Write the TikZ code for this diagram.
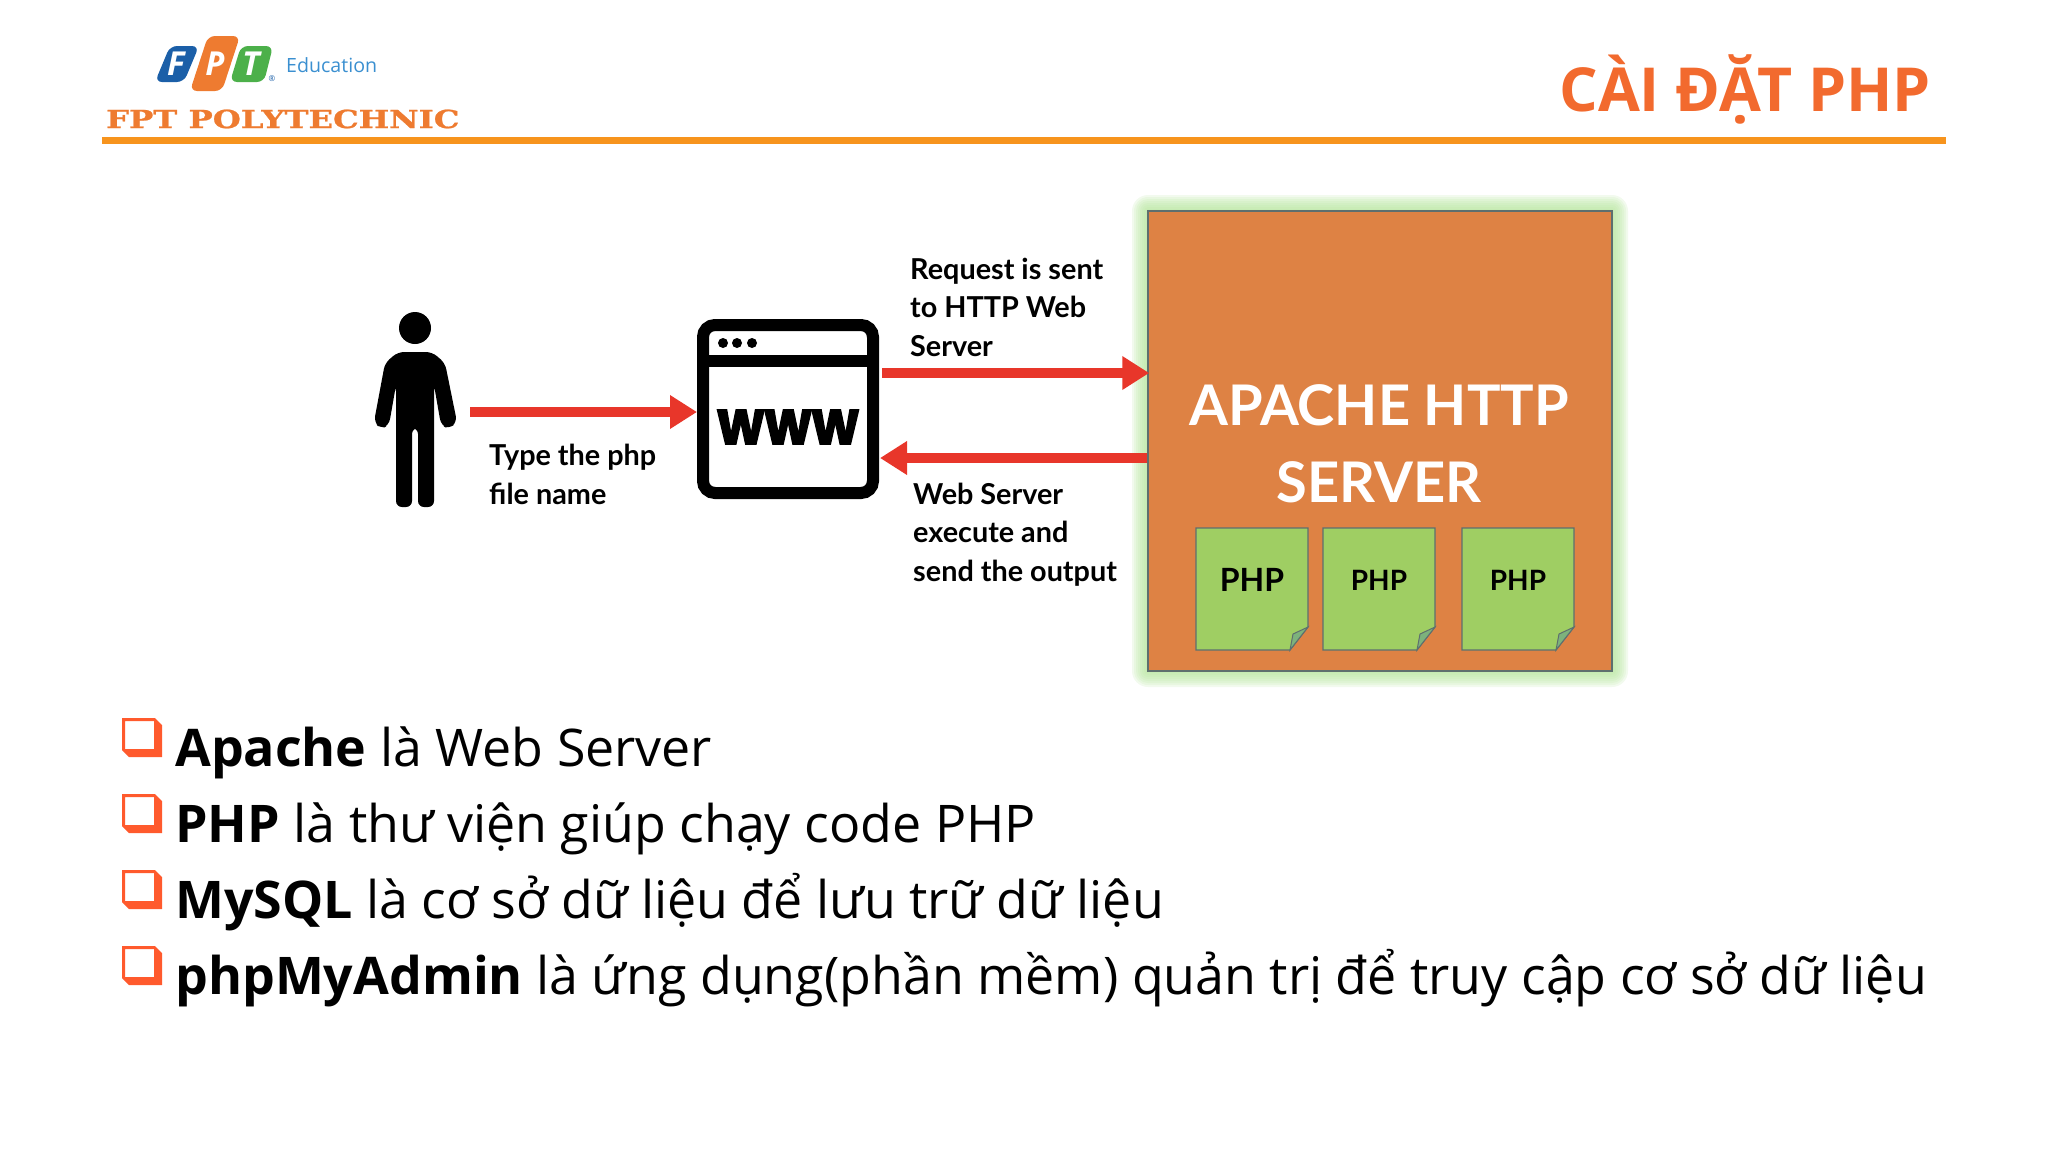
\documentclass[tikz,border=0pt]{standalone}
\usepackage{fontspec}
\setmainfont{Open Sans}
\newfontfamily\labelfont{Lato}
\newfontfamily\crestfont[FakeStretch=1.3,FakeBold=1]{DejaVu Serif}
\newfontfamily\wwwfont[FakeBold=2,FakeStretch=.88]{Poppins}
\usepackage{tikz}
\usetikzlibrary{arrows.meta}
\definecolor{slideorange}{HTML}{F7941D}
\definecolor{titleorange}{HTML}{F26A2E}
\definecolor{bulletorange}{HTML}{FF5A2D}
\definecolor{crestorange}{HTML}{EE7B30}
\definecolor{fptblue}{HTML}{1B5FA8}
\definecolor{fptgreen}{HTML}{4CB04A}
\definecolor{edulblue}{HTML}{3A8FD0}
\definecolor{serverorange}{HTML}{DE8244}
\definecolor{glowgreen}{HTML}{B8E6A0}
\definecolor{notegreen}{HTML}{9FCE63}
\definecolor{foldgreen}{HTML}{7DB27C}
\definecolor{edgegrey}{HTML}{5E6F6E}
\definecolor{arrowred}{HTML}{E8362A}

\begin{document}
\begin{tikzpicture}[
  x=1pt,y=-1pt,
  itemtext/.style={anchor=base west,inner sep=0pt,font=\fontsize{51.9}{52}\selectfont},
  steplabel/.style={anchor=base west,inner sep=0pt,align=left,font=\labelfont\bfseries\fontsize{28.8}{38.5}\selectfont},
  browser/.style={draw=black,line width=12pt,rounded corners=12pt,minimum width=170pt,minimum height=168pt,inner sep=0pt},
  server/.style={draw=edgegrey,line width=1.5pt,fill=serverorange,minimum width=464pt,minimum height=460pt},
  notepaper/.style={draw=edgegrey,line width=1.2pt,fill=notegreen},
  notefold/.style={draw=edgegrey,line width=1pt,fill=foldgreen},
  redarrow/.style={draw=arrowred,line width=10pt,-{Triangle[length=27pt,width=32pt]}},
  logotile/.style={rounded corners=7pt}]
\useasboundingbox (0,0) rectangle (2048,1152);

% header
\fill[logotile,fptblue] (170,46) -- (199,46) -- (184,82) -- (155,82) -- cycle;
\fill[logotile,crestorange] (208,36) -- (240,36) -- (222,91) -- (190,91) -- cycle;
\fill[logotile,fptgreen] (241,46) -- (273,46) -- (264,82) -- (230,82) -- cycle;
\node[text=white,font=\bfseries\itshape\fontsize{33}{33}\selectfont] (logof) at (176,64) {F};
\node[text=white,font=\bfseries\itshape\fontsize{33}{33}\selectfont] (logop) at (215,64) {P};
\node[text=white,font=\bfseries\itshape\fontsize{33}{33}\selectfont] (logot) at (251,64) {T};
\node[text=fptblue,inner sep=0pt,font=\fontsize{8}{8}\selectfont] (logor) at (272,79) {®};
\node[text=edulblue,anchor=base west,inner sep=0pt,font=\fontsize{19.6}{20}\selectfont] (edu) at (286,72) {Education};
\node[text=crestorange,anchor=base west,inner sep=0pt,font=\crestfont\bfseries\fontsize{24.8}{25}\selectfont] (crest) at (106,128) {FPT POLYTECHNIC};
\node[text=titleorange,anchor=base east,inner sep=0pt,font=\bfseries\fontsize{60.7}{61}\selectfont] (title) at (1931,111) {CÀI ĐẶT PHP};
\fill[slideorange] (102,137) rectangle (1946,144);

% user and browser
\node[minimum width=110pt,minimum height=195pt,inner sep=0pt] (usr) at (415,412) {};
\fill (415,328) circle (16);
\fill[rounded corners=6pt] (398,352) -- (432,352) -- (445,363) -- (457,422) -- (449,429) -- (441,425) -- (434,385)
  -- (434,507) -- (418,507) -- (418,428) -- (412,428) -- (412,507) -- (396,507) -- (396,385) -- (389,425) -- (381,429)
  -- (374,422) -- (385,363) -- cycle;
\node[browser] (www) at (788,409) {};
\draw[black,line width=12pt] ([yshift=-42pt]www.north west) -- ([yshift=-42pt]www.north east);
\foreach \dx in {723,737,752} \fill (\dx,343) circle (5);
\node[inner sep=0pt,font=\wwwfont\bfseries\fontsize{62}{62}\selectfont] (wwwtext) at (788,427) {www};

% server
\foreach \g in {16,14,12,10,8,6,4,2}
  \fill[glowgreen,opacity=.18,rounded corners=\g pt] ({1148-\g},{211-\g}) rectangle ({1612+\g},{671+\g});
\node[server] (srv) at (1380,441) {};
\node[text=white,align=center,inner sep=0pt,font=\labelfont\bfseries\fontsize{56}{77}\selectfont] (srvname) at (1379,444) {APACHE HTTP\\SERVER};
\foreach \i/\nx/\fs in {1/1196/32,2/1323/28,3/1462/28} {
  \draw[notepaper] (\nx,528) -- ++(112,0) -- ++(0,99) -- ++(-18,23) -- ++(-94,0) -- cycle;
  \draw[notefold] (\nx+94,650) -- (\nx+97,634) -- (\nx+112,627) -- cycle;
  \node[inner sep=0pt,font=\labelfont\bfseries\fontsize{\fs}{\fs}\selectfont] (php\i) at (\nx+56,580) {PHP};
}

% connectors
\coordinate (reqy) at (0,373);
\coordinate (resy) at (0,458);
\draw[redarrow] (usr.east) -- (usr.east -| www.west);
\draw[redarrow] ([xshift=3pt]www.east |- reqy) -- ([xshift=2pt]srv.west |- reqy);
\draw[redarrow] (srv.west |- resy) -- ([xshift=1pt]www.east |- resy);
\node[steplabel] (typelbl) at (489,504) {Type the php\\file name};
\node[steplabel] (reqlbl) at (910,356) {Request is sent\\to HTTP Web\\Server};
\node[steplabel] (reslbl) at (913,581) {Web Server\\execute and\\send the output};

% bullets
\foreach \by in {718,794,870,946} {
  \fill[bulletorange,even odd rule] (122,\by) -- (155,\by) -- (162,\by+7) -- (162,\by+39) -- (129,\by+39) -- (122,\by+32) -- cycle
    (125,\by+3) rectangle (154,\by+31);
}
\node[itemtext] (item1) at (175,766) {\textbf{Apache} là Web Server};
\node[itemtext] (item2) at (175,842) {\textbf{PHP} là thư viện giúp chạy code PHP};
\node[itemtext] (item3) at (175,918) {\textbf{MySQL} là cơ sở dữ liệu để lưu trữ dữ liệu};
\node[itemtext] (item4) at (175,994) {\textbf{phpMyAdmin} là ứng dụng(phần mềm) quản trị để truy cập cơ sở dữ liệu};
\end{tikzpicture}
\end{document}
